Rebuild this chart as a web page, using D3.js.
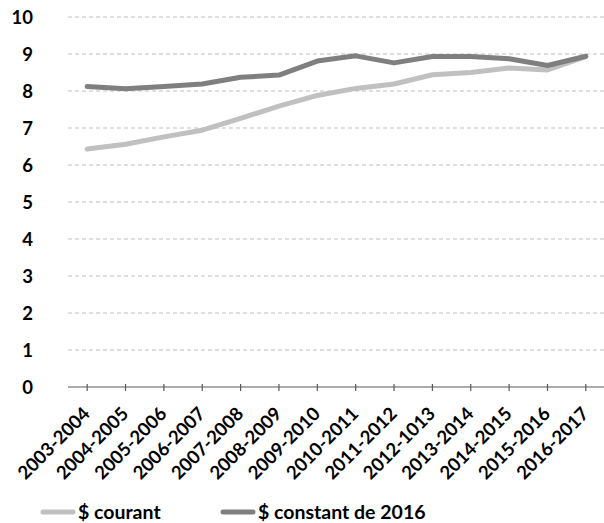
<!DOCTYPE html>
<html><head><meta charset="utf-8">
<script src="https://cdn.jsdelivr.net/npm/d3@7"></script>
<style>body{margin:0;background:#fff}svg{display:block}text{font-family:Lato,"Open Sans",sans-serif;font-weight:bold;fill:#000}</style>
</head><body>
<svg id="c" width="604" height="523"></svg>
<script>
const categories = ["2003-2004","2004-2005","2005-2006","2006-2007","2007-2008","2008-2009","2009-2010","2010-2011","2011-2012","2012-1013","2013-2014","2014-2015","2015-2016","2016-2017"];
const courant = [6.43,6.56,6.76,6.94,7.26,7.59,7.88,8.07,8.19,8.44,8.50,8.62,8.57,8.93];
const constant2016 = [8.12,8.06,8.12,8.19,8.37,8.43,8.81,8.95,8.76,8.93,8.93,8.87,8.69,8.94];
const yTicks = [0,1,2,3,4,5,6,7,8,9,10];
const seriesNames = ["$ courant","$ constant de 2016"];
const seriesColors = ["#c0c0c0","#7f7f7f"];

const svg = d3.select("#c");
const x = d3.scaleBand().domain(categories).range([68, 605]);
const y = d3.scaleLinear().domain([0,10]).range([387, 17]);
const cx = d => x(d) + x.bandwidth()/2;

// gridlines
svg.append("g").selectAll("line").data(yTicks.filter(v=>v>0)).join("line")
  .attr("x1",68).attr("x2",604).attr("y1",d=>y(d)).attr("y2",d=>y(d))
  .attr("stroke","#bfbfbf").attr("stroke-width",1).attr("stroke-dasharray","4,3");

// y labels
svg.append("g").selectAll("text").data(yTicks).join("text")
  .attr("x",33).attr("y",d=>y(d)).attr("dy","0.36em").attr("text-anchor","end")
  .style("font-size","18.5px").text(d=>d);

// x axis
const xAxis = d3.axisBottom(x).tickSize(0).tickFormat("");
const gx = svg.append("g").attr("transform","translate(0,387)").call(xAxis);
gx.select(".domain").remove();
gx.append("line").attr("x1",68).attr("x2",604).attr("stroke","#595959").attr("stroke-width",1.2);
gx.selectAll(".tick line").attr("y1",-3).attr("y2",4).attr("stroke","#595959").attr("stroke-width",1.2);

svg.append("g").selectAll("text").data(categories).join("text")
  .attr("transform",d=>`translate(${cx(d)+4},415) rotate(-45)`)
  .attr("text-anchor","end").style("font-size","18.5px").text(d=>d);

// lines
const line = d3.line().x((d,i)=>cx(categories[i])).y(d=>y(d));
[courant, constant2016].forEach((s,i)=>{
  svg.append("path").datum(s).attr("d",line).attr("fill","none")
    .attr("stroke",seriesColors[i]).attr("stroke-width",5).attr("stroke-linejoin","round").attr("stroke-linecap","round");
});

// legend
const legX = [43, 223];
seriesNames.forEach((n,i)=>{
  const g = svg.append("g").attr("transform",`translate(${legX[i]},512)`);
  g.append("line").attr("x1",0).attr("x2",30).attr("stroke",seriesColors[i]).attr("stroke-width",5).attr("stroke-linecap","round");
  g.append("text").attr("x",35).attr("dy","0.34em").style("font-size","19.5px").text(n);
});
</script>
</body></html>
